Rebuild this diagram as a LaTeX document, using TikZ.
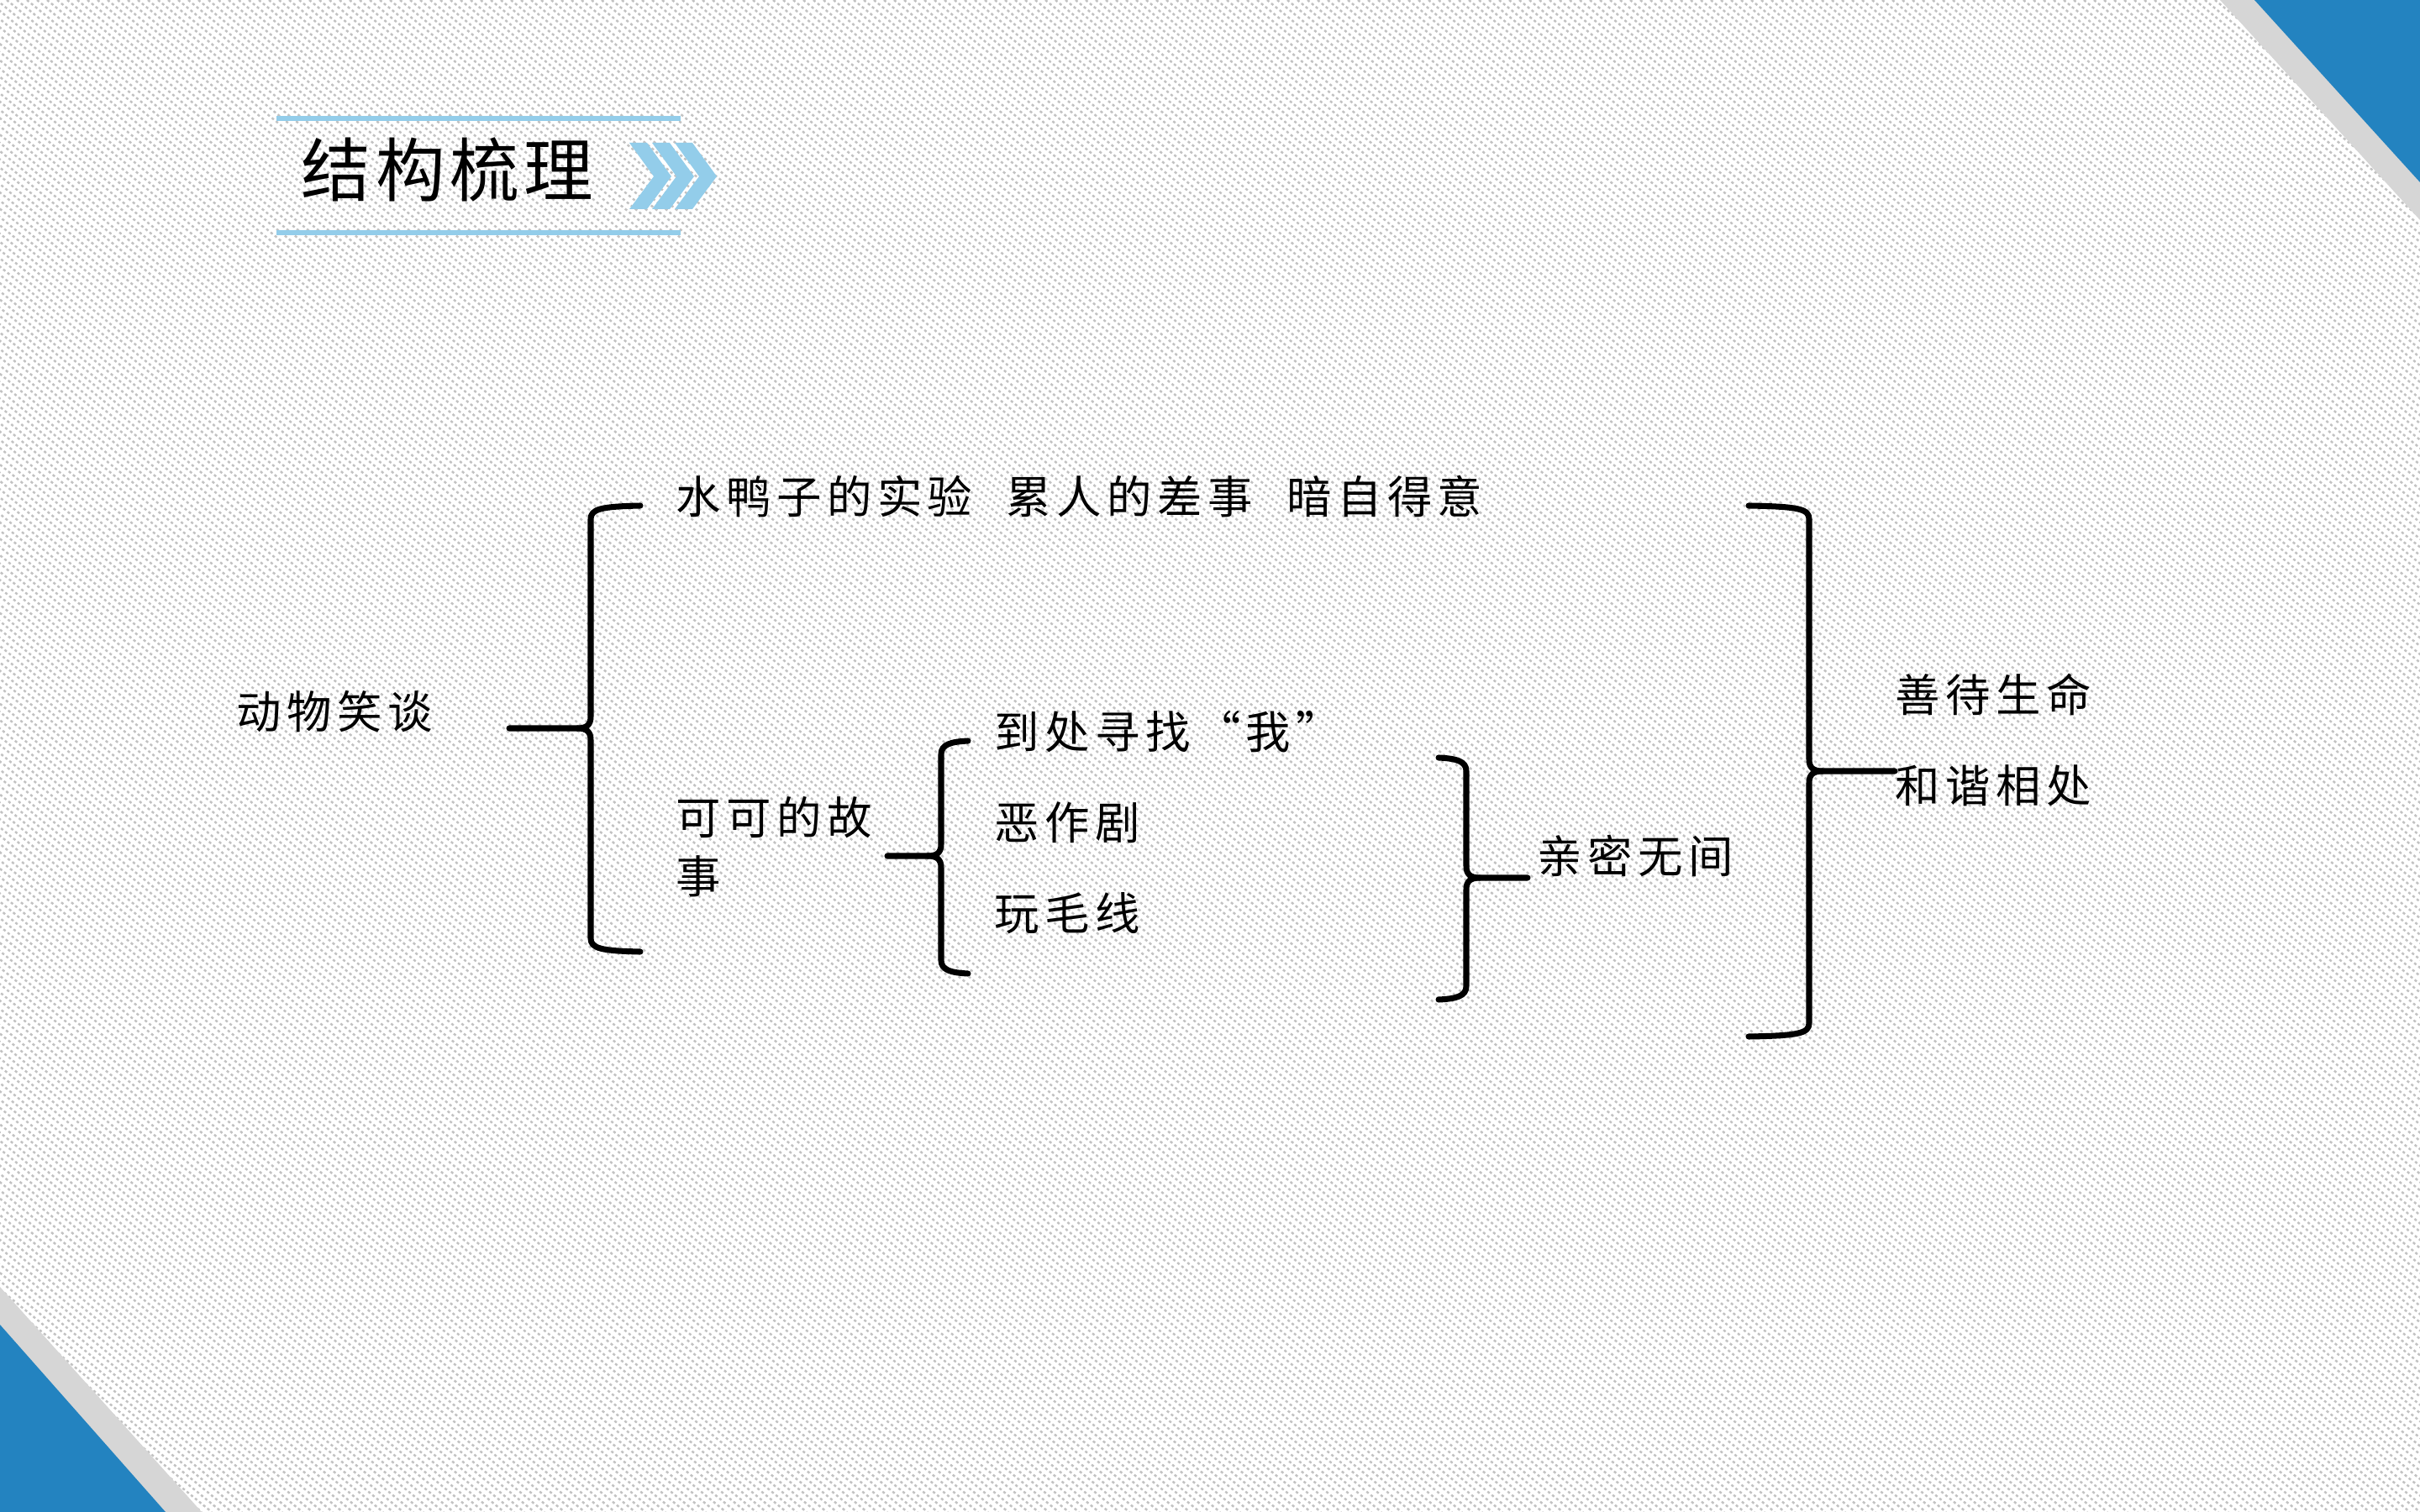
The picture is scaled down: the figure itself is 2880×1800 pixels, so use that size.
\documentclass[tikz,border=0pt]{standalone}
\usepackage{fontspec}
\newfontfamily\cjk[LetterSpace=12]{Noto Sans CJK SC}
\newfontfamily\cjktitle[LetterSpace=7]{Noto Sans CJK SC}
\definecolor{cblue}{HTML}{2383C0}
\definecolor{cgray}{HTML}{D6D6D6}
\definecolor{tblue}{HTML}{93CDEA}
\newcommand{\LBr}[6]{%
 \draw[brace] (#5,#2) .. controls ({#1+12},{#2+1}) and (#1,{#2+4}) .. (#1,{#2+16}) -- (#1,{#4-14}) .. controls (#1,{#4-4}) and ({#1-5},#4) .. ({#1-16},#4) -- (#6,#4);
 \draw[brace] ({#1-16},#4) .. controls ({#1-5},#4) and (#1,{#4+4}) .. (#1,{#4+14}) -- (#1,{#3-16}) .. controls (#1,{#3-4}) and ({#1+12},{#3-1}) .. (#5,#3);}
\newcommand{\RBr}[6]{%
 \draw[brace] (#5,#2) .. controls ({#1-12},{#2+1}) and (#1,{#2+4}) .. (#1,{#2+16}) -- (#1,{#4-14}) .. controls (#1,{#4-4}) and ({#1+5},#4) .. ({#1+16},#4) -- (#6,#4);
 \draw[brace] ({#1+16},#4) .. controls ({#1+5},#4) and (#1,{#4+4}) .. (#1,{#4+14}) -- (#1,{#3-16}) .. controls (#1,{#3-4}) and ({#1-12},{#3-1}) .. (#5,#3);}
\begin{document}
\begin{tikzpicture}[x=0.01cm,y=-0.01cm,
  brace/.style={line width=2pt, line cap=round, line join=round},
  txt/.style={inner sep=0pt, anchor=west, font=\cjk\fontsize{15.2pt}{19.9pt}\selectfont},
  titletxt/.style={inner sep=0pt, anchor=west, font=\cjktitle\fontsize{23.5pt}{28pt}\selectfont},
  tline/.style={tblue, line width=1.7pt}]
\useasboundingbox (0,0) rectangle (2880,1800);
\fill[white] (0,0) rectangle (2880,1800);
\begin{scope}
\clip (0,0) rectangle (2880,1800);
\foreach \i in {-2200,-2188,...,2880}
  \draw[black!24, line width=0.7pt, dash pattern=on 0.9pt off 0.9pt] (\i,0) -- ++(2200,1800);
\end{scope}
% corners
\fill[cgray] (2642,0) -- (2880,0) -- (2880,262) -- cycle;
\fill[cblue] (2683,0) -- (2880,0) -- (2880,217) -- cycle;
\fill[cgray] (0,1532) -- (240,1800) -- (0,1800) -- cycle;
\fill[cblue] (0,1577) -- (197,1800) -- (0,1800) -- cycle;
% title
\draw[tline] (329,141) -- (810,141);
\draw[tline] (329,277) -- (810,277);
\node[titletxt] (title) at (358,202) {结构梳理};
\foreach \k in {0,1,2}
  \fill[tblue] ({749+27*\k},170) -- ++(21,0) -- ++(29,40) -- ++(-29,39) -- ++(-21,0) -- ++(29,-39) -- cycle;
% texts
\node[txt] (animal) at (281,847) {动物笑谈};
\node[txt] (duck) at (804,591) {水鸭子的实验\hspace{11.5pt}累人的差事\hspace{11.5pt}暗自得意};
\node[txt, align=left] (keke) at (804,1008) {可可的故\\事};
\node[txt] (find) at (1183,871) {到处寻找“我”};
\node[txt] (prank) at (1183,979) {恶作剧};
\node[txt] (yarn) at (1183,1087) {玩毛线};
\node[txt] (close) at (1829,1019) {亲密无间};
\node[txt] (life) at (2255,827) {善待生命};
\node[txt] (harm) at (2255,935) {和谐相处};
% braces
\LBr{703}{602}{1133}{867}{762}{606}
\LBr{1120}{882}{1159}{1019}{1152}{1056}
\RBr{1745}{902}{1190}{1045}{1712}{1818}
\RBr{2153}{602}{1234}{918}{2081}{2255}
\end{tikzpicture}
\end{document}
